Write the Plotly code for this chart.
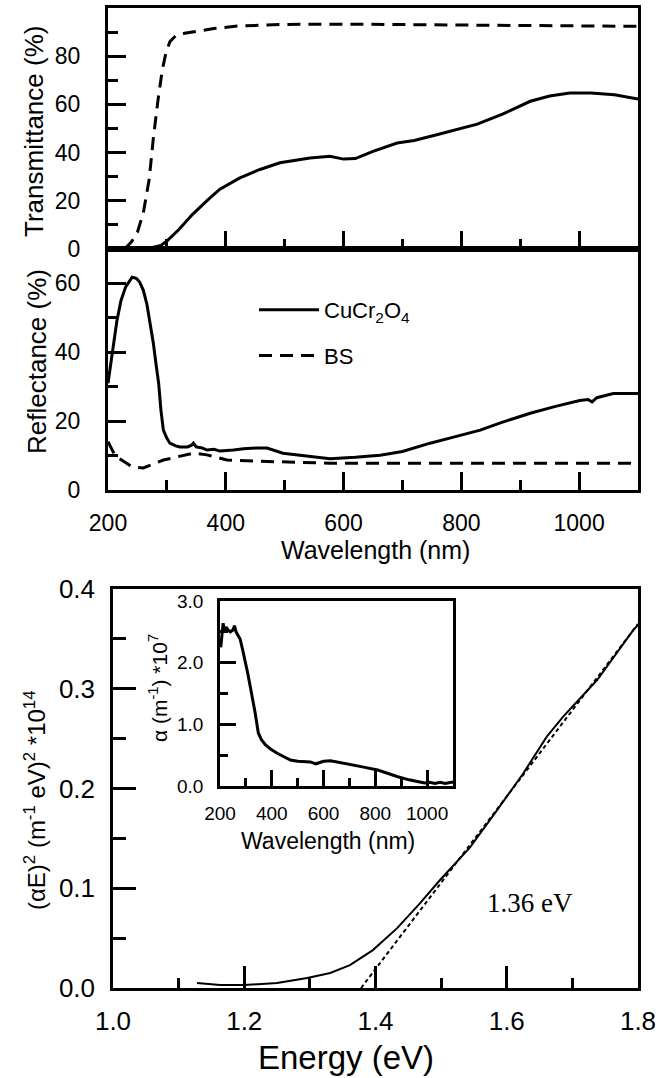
import plotly.graph_objects as go

# ---------------- data ----------------
trans_wl_cu = [250, 270, 290, 300, 320, 344, 370, 390, 424, 458, 492, 520, 543, 577, 600, 620, 650, 691, 720, 760, 800, 827, 870, 917, 950, 984, 1020, 1060, 1100]
trans_cu = [0, 0.3, 1.5, 3.3, 8, 14.5, 20.5, 24.8, 29.5, 33, 35.8, 37, 37.8, 38.5, 37.3, 37.5, 40.5, 44, 45, 47.5, 50, 51.8, 56, 61.3, 63.5, 64.7, 64.7, 64, 62.2]

trans_wl_bs = [228, 240, 250, 260, 270, 277, 285, 292, 298, 305, 315, 330, 350, 380, 420, 500, 600, 700, 800, 900, 1000, 1100]
trans_bs = [0, 3, 7, 15, 29, 46, 62, 74, 81, 86, 88.5, 89.5, 90.3, 91.5, 92.5, 93.2, 93.3, 93.1, 93, 92.8, 92.6, 92.4]

refl_wl_cu = [200, 204, 208, 215, 222, 230, 241, 248, 254, 260, 266, 272, 277, 282, 286, 290, 294, 300, 305, 315, 322, 335, 342, 345, 350, 360, 368, 380, 390, 413, 430, 453, 470, 497, 520, 550, 577, 620, 662, 700, 747, 790, 832, 870, 917, 960, 1001, 1015, 1022, 1030, 1058, 1100]
refl_cu = [31, 36, 40.6, 49, 55, 59, 61.8, 61.5, 60.3, 58, 54, 48, 42.6, 36, 31, 23, 17.4, 15, 13.6, 12.8, 12.5, 12.5, 13, 13.6, 12.5, 12.2, 11.6, 11.8, 11.3, 11.6, 12, 12.2, 12.2, 10.7, 10.2, 9.6, 9.1, 9.5, 10.1, 11.2, 13.6, 15.5, 17.4, 19.7, 22.3, 24.3, 26, 26.3, 25.6, 26.8, 28, 28]

refl_wl_bs = [200, 206, 212, 241, 260, 294, 317, 345, 368, 402, 447, 500, 577, 700, 800, 900, 1000, 1100]
refl_bs = [14, 12, 10, 6.7, 6.4, 8.7, 9.6, 10.7, 10.2, 8.7, 8.4, 8.1, 7.8, 7.8, 7.8, 7.8, 7.8, 7.8]

tauc_E = [1.128, 1.163, 1.2, 1.25, 1.296, 1.331, 1.361, 1.396, 1.433, 1.468, 1.498, 1.544, 1.585, 1.625, 1.661, 1.686, 1.738, 1.793, 1.80]
tauc_y = [0.005, 0.003, 0.003, 0.005, 0.010, 0.015, 0.023, 0.038, 0.060, 0.085, 0.108, 0.141, 0.178, 0.215, 0.252, 0.272, 0.309, 0.359, 0.364]

fit_E = [1.378, 1.80]
fit_y = [0.0, 0.365]

abs_wl = [203, 207, 212, 218, 224, 231, 240, 250, 256, 262, 270, 278, 288, 297, 307, 317, 327, 336, 348, 360, 375, 395, 421, 445, 472, 500, 549, 570, 600, 627, 660, 705, 750, 809, 850, 887, 930, 965, 990, 1010, 1030, 1050, 1070, 1093, 1100]
abs_a = [2.25, 2.5, 2.64, 2.5, 2.58, 2.53, 2.5, 2.53, 2.6, 2.5, 2.45, 2.38, 2.2, 2.04, 1.83, 1.61, 1.4, 1.18, 0.86, 0.75, 0.67, 0.6, 0.53, 0.48, 0.42, 0.4, 0.39, 0.36, 0.4, 0.41, 0.38, 0.34, 0.31, 0.26, 0.2, 0.15, 0.1, 0.07, 0.05, 0.06, 0.04, 0.06, 0.04, 0.06, 0.06]

wl_ticks = [200, 400, 600, 800, 1000]
trans_ticks = [0, 20, 40, 60, 80]
refl_ticks = [0, 20, 40, 60]
tauc_yticks = [0.0, 0.1, 0.2, 0.3, 0.4]
tauc_xticks = [1.0, 1.2, 1.4, 1.6, 1.8]
abs_yticks = [0.0, 1.0, 2.0, 3.0]

W, H = 658, 1078
FONT = "Arial, Liberation Sans, sans-serif"

def px_x(p):
    return p / W

def px_y(p):
    return 1 - p / H

fig = go.Figure()
BLK = "black"
DASH = "13px,8px"

fig.add_trace(go.Scatter(x=trans_wl_cu, y=trans_cu, mode="lines", line=dict(color=BLK, width=3),
                         xaxis="x", yaxis="y", showlegend=False))
fig.add_trace(go.Scatter(x=trans_wl_bs, y=trans_bs, mode="lines", line=dict(color=BLK, width=3, dash=DASH),
                         xaxis="x", yaxis="y", showlegend=False))
fig.add_trace(go.Scatter(x=refl_wl_cu, y=refl_cu, mode="lines", line=dict(color=BLK, width=3),
                         xaxis="x2", yaxis="y2", name="CuCr<sub>2</sub>O<sub>4</sub>", legendgroup="a"))
fig.add_trace(go.Scatter(x=refl_wl_bs, y=refl_bs, mode="lines", line=dict(color=BLK, width=3, dash=DASH),
                         xaxis="x2", yaxis="y2", name="BS", legendgroup="b"))
fig.add_trace(go.Scatter(x=tauc_E, y=tauc_y, mode="lines", line=dict(color=BLK, width=2),
                         xaxis="x3", yaxis="y3", showlegend=False))
fig.add_trace(go.Scatter(x=fit_E, y=fit_y, mode="lines", line=dict(color=BLK, width=2, dash="4px,3px"),
                         xaxis="x3", yaxis="y3", showlegend=False))
fig.add_trace(go.Scatter(x=abs_wl, y=abs_a, mode="lines", line=dict(color=BLK, width=3),
                         xaxis="x4", yaxis="y4", showlegend=False))

def ax(**kw):
    base = dict(showline=True, linecolor=BLK, mirror=True, ticks="inside", tickcolor=BLK,
                showgrid=False, zeroline=False, automargin=False,
                tickfont=dict(family=FONT, size=23, color=BLK))
    base.update(kw)
    return base

xd_main = [px_x(108), px_x(638)]
xd_bot = [px_x(113), px_x(638)]

fig.update_layout(
    template="none",
    width=W, height=H, margin=dict(l=0, r=0, t=0, b=0, pad=0), autosize=False,
    paper_bgcolor="white", plot_bgcolor="white",
    font=dict(family=FONT, color=BLK),
    xaxis=ax(domain=xd_main, range=[200, 1100], anchor="y", linewidth=3, tickwidth=3, ticklen=18,
             tickvals=[400, 600, 800, 1000], showticklabels=False,
             minor=dict(tickvals=[300, 500, 700, 900], ticklen=10, tickwidth=3, ticks="inside", tickcolor=BLK)),
    yaxis=ax(domain=[px_y(249), px_y(8)], range=[0, 100], anchor="x", linewidth=3, tickwidth=3, ticklen=18,
             tickvals=trans_ticks, ticklabelstandoff=20,
             minor=dict(tickvals=[10, 30, 50, 70, 90], ticklen=10, tickwidth=3, ticks="inside", tickcolor=BLK)),
    xaxis2=ax(domain=xd_main, range=[200, 1100], anchor="y2", linewidth=3, tickwidth=3, ticklen=18,
              tickvals=wl_ticks, ticklabelstandoff=10,
              minor=dict(tickvals=[300, 500, 700, 900], ticklen=10, tickwidth=3, ticks="inside", tickcolor=BLK)),
    yaxis2=ax(domain=[px_y(490), px_y(249)], range=[0, 70], anchor="x2", linewidth=3, tickwidth=3, ticklen=18,
              tickvals=refl_ticks, ticklabelstandoff=20,
              minor=dict(tickvals=[10, 30, 50], ticklen=10, tickwidth=3, ticks="inside", tickcolor=BLK)),
    xaxis3=ax(domain=xd_bot, range=[1.0, 1.8], anchor="y3", linewidth=2.5, tickwidth=2.5, ticklen=22,
              tickvals=tauc_xticks, ticktext=["1.0", "1.2", "1.4", "1.6", "1.8"], ticklabelstandoff=8,
              tickfont=dict(family=FONT, size=26, color=BLK),
              minor=dict(tickvals=[1.1, 1.3, 1.5, 1.7], ticklen=10, tickwidth=2.5, ticks="inside", tickcolor=BLK)),
    yaxis3=ax(domain=[px_y(988), px_y(589)], range=[0, 0.4], anchor="x3", linewidth=2.5, tickwidth=2.5, ticklen=23,
              tickvals=tauc_yticks, ticktext=["0.0", "0.1", "0.2", "0.3", "0.4"], ticklabelstandoff=10,
              tickfont=dict(family=FONT, size=26, color=BLK),
              minor=dict(tickvals=[0.05, 0.15, 0.25, 0.35], ticklen=13, tickwidth=2.5, ticks="inside", tickcolor=BLK)),
    xaxis4=ax(domain=[px_x(220), px_x(453)], range=[200, 1100], anchor="y4", linewidth=2.5, tickwidth=2.5, ticklen=16,
              tickvals=wl_ticks, ticklabelstandoff=8,
              tickfont=dict(family=FONT, size=19, color=BLK),
              minor=dict(tickvals=[300, 500, 700, 900], ticklen=8, tickwidth=2.5, ticks="inside", tickcolor=BLK)),
    yaxis4=ax(domain=[px_y(786), px_y(601)], range=[0, 3.0], anchor="x4", linewidth=2.5, tickwidth=2.5, ticklen=16,
              tickvals=abs_yticks, ticktext=["0.0", "1.0", "2.0", "3.0"], ticklabelstandoff=10,
              tickfont=dict(family=FONT, size=19, color=BLK),
              minor=dict(tickvals=[0.5, 1.5, 2.5], ticklen=8, tickwidth=2.5, ticks="inside", tickcolor=BLK)),
    legend=dict(x=px_x(254), y=px_y(289), xanchor="left", yanchor="top", bgcolor="rgba(0,0,0,0)",
                font=dict(family=FONT, size=22, color=BLK), tracegroupgap=14, itemwidth=60),
)

def title(text, x, y, size, angle=0, family=FONT):
    fig.add_annotation(text=text, x=x, y=y, xref="paper", yref="paper", showarrow=False,
                       textangle=angle, font=dict(family=family, size=size, color=BLK),
                       xanchor="center", yanchor="middle")

title("Transmittance (%)", px_x(34), px_y(132), 26, -90)
title("Reflectance (%)", px_x(37), px_y(362), 26, -90)
title("Wavelength (nm)", px_x(375), px_y(550), 25)
title("(αE)<sup>2</sup> (m<sup>-1</sup> eV)<sup>2</sup> *10<sup>14</sup>", px_x(35), px_y(800), 24, -90)
title("Energy (eV)", px_x(346), px_y(1057), 33)
title("α (m<sup>-1</sup>) *10<sup>7</sup>", px_x(158), px_y(688), 21, -90)
title("Wavelength (nm)", px_x(328), px_y(841), 23)

fig.add_annotation(text="1.36 eV", x=1.636, y=0.085, xref="x3", yref="y3", showarrow=False,
                   font=dict(family="Times New Roman, Liberation Serif, serif", size=27, color=BLK))

fig.write_html("out.html", config={"displayModeBar": False},
               post_script="document.body.style.margin='0px';document.body.style.overflow='hidden';")
